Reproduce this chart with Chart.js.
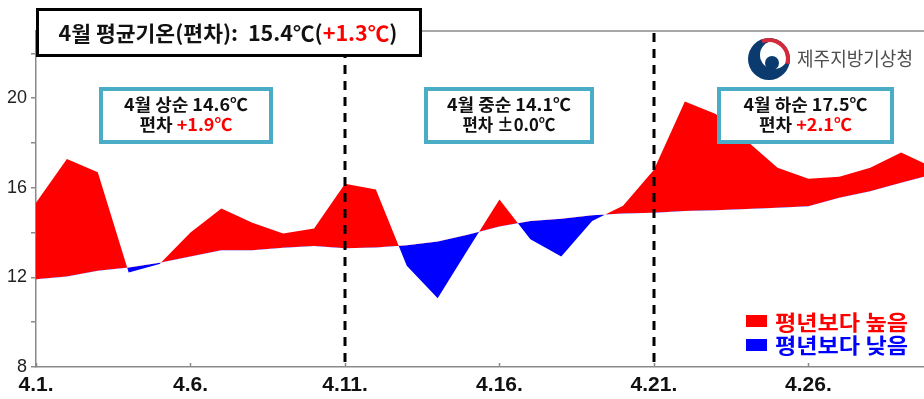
<!DOCTYPE html>
<html>
<head>
<meta charset="utf-8">
<script src="https://cdn.jsdelivr.net/npm/chart.js@4.4.1/dist/chart.umd.min.js"></script>
<style>
  html, body { margin: 0; padding: 0; background: #fff; }
  #wrap { width: 924px; height: 399px; }
</style>
</head>
<body>
<div id="wrap"><canvas id="aprilTemp" width="924" height="399"></canvas></div>
<script>
// April daily mean temperature vs. normal (Jeju)
const days = [1, 2, 3, 4, 5, 6, 7, 8, 9, 10, 11, 12, 13, 14, 15, 16, 17, 18, 19, 20, 21, 22, 23, 24, 25, 26, 27, 28, 29, 30];
const actualTemp = [15.33, 17.29, 16.69, 12.22, 12.6, 14.0, 15.08, 14.44, 13.96, 14.18,
                    16.18, 15.92, 12.52, 11.07, 13.29, 15.48, 13.7, 12.93, 14.52, 15.2,
                    16.81, 19.85, 19.3, 18.1, 16.89, 16.4, 16.49, 16.89, 17.58, 16.93];
const normalTemp = [11.92, 12.04, 12.3, 12.44, 12.65, 12.93, 13.21, 13.21, 13.32, 13.4,
                    13.3, 13.33, 13.43, 13.6, 13.92, 14.27, 14.52, 14.62, 14.78, 14.85,
                    14.89, 14.96, 15.0, 15.05, 15.11, 15.18, 15.56, 15.85, 16.22, 16.59];
const xTickDays = [1, 6, 11, 16, 21, 26];
const yTicks = [8, 10, 12, 14, 16, 18, 20, 22];
const yTickLabels = [8, 12, 16, 20];
const dekadDividers = [11, 21];

const titleText = ['4월 평균기온(편차):  15.4℃(', '+1.3℃', ')'];
const dekadTitles = ['4월 상순 14.6℃', '4월 중순 14.1℃', '4월 하순 17.5℃'];
const dekadDeviations = ['+1.9℃', '±0.0℃', '+2.1℃'];
const legendLabels = ['평년보다 높음', '평년보다 낮음'];
const agencyName = '제주지방기상청';

const RED = '#ff0000';
const BLUE = '#0000ff';
const KFONT = "'Noto Sans CJK KR', 'Noto Sans', sans-serif";

// draw coloured pieces as one line, centred at cx (or left at x0), squeezed/stretched to width
function drawMixed(ctx, parts, cx, cy, width, leftAlign) {
  let total = 0;
  parts.forEach(p => { total += ctx.measureText(p[0]).width; });
  const k = width ? width / total : 1;
  ctx.save();
  ctx.translate(leftAlign ? cx : cx - total * k / 2, cy);
  ctx.scale(k, 1);
  ctx.textAlign = 'left';
  let x = 0;
  parts.forEach(p => {
    ctx.fillStyle = p[1];
    ctx.fillText(p[0], x, 0);
    x += ctx.measureText(p[0]).width;
  });
  ctx.restore();
}

const overlay = {
  id: 'overlay',
  afterDatasetsDraw(chart) {
    const { ctx, chartArea: a, scales: { x } } = chart;
    ctx.save();

    // top frame line
    ctx.strokeStyle = '#8a8a8a';
    ctx.lineWidth = 1.5;
    ctx.beginPath();
    ctx.moveTo(a.left, a.top);
    ctx.lineTo(a.right, a.top);
    ctx.stroke();

    // small inward ticks on x axis
    xTickDays.forEach(d => {
      const px = Math.round(x.getPixelForValue(d)) + 0.5;
      ctx.beginPath();
      ctx.moveTo(px, a.bottom);
      ctx.lineTo(px, a.bottom - 4);
      ctx.stroke();
    });

    // dekad dividers
    ctx.strokeStyle = '#000';
    ctx.lineWidth = 3;
    ctx.setLineDash([9, 7]);
    dekadDividers.forEach(d => {
      const px = Math.round(x.getPixelForValue(d));
      ctx.beginPath();
      ctx.moveTo(px, a.top + 2);
      ctx.lineTo(px, a.bottom);
      ctx.stroke();
    });
    ctx.setLineDash([]);

    // month title box
    ctx.fillStyle = '#fff';
    ctx.fillRect(36, 8, 386, 49);
    ctx.strokeStyle = '#000';
    ctx.lineWidth = 3;
    ctx.strokeRect(37.5, 9.5, 383, 46);
    ctx.font = 'bold 21px ' + KFONT;
    ctx.textBaseline = 'middle';
    drawMixed(ctx, [[titleText[0], '#111'], [titleText[1], RED], [titleText[2], '#111']], 228, 33, 339);

    // dekad boxes
    const boxes = [[99, 87, 174, 57], [424, 87, 170, 57], [717, 87, 177, 57]];
    boxes.forEach((b, i) => {
      ctx.fillStyle = '#fff';
      ctx.fillRect(b[0], b[1], b[2], b[3]);
      ctx.strokeStyle = '#4bacc6';
      ctx.lineWidth = 4;
      ctx.strokeRect(b[0] + 2, b[1] + 2, b[2] - 4, b[3] - 4);
      const cx = b[0] + b[2] / 2;
      ctx.font = 'bold 17px ' + KFONT;
      drawMixed(ctx, [[dekadTitles[i], '#111']], cx, 105, 124);
      const dev = dekadDeviations[i];
      const devColor = dev.startsWith('+') ? RED : '#111';
      drawMixed(ctx, [['편차 ', '#111'], [dev, devColor]], cx, 125, 93);
    });

    // agency logo
    const lx = 769, ly = 59;
    ctx.fillStyle = '#0b3a6e';
    ctx.beginPath(); ctx.arc(lx, ly, 21, 0, Math.PI * 2); ctx.fill();
    ctx.fillStyle = '#fff';
    ctx.beginPath(); ctx.arc(lx + 5, ly - 4, 14, 0, Math.PI * 2); ctx.fill();
    ctx.fillStyle = '#0b3a6e';
    ctx.beginPath(); ctx.arc(lx + 3, ly + 4, 7, 0, Math.PI * 2); ctx.fill();
    ctx.strokeStyle = '#d42a3c';
    ctx.lineWidth = 4;
    ctx.beginPath(); ctx.arc(lx, ly, 19, -Math.PI * 0.62, Math.PI * 0.08); ctx.stroke();
    ctx.font = '19px ' + KFONT;
    drawMixed(ctx, [[agencyName, '#4d4d4d']], 797, 59, 116, true);

    // legend
    ctx.font = 'bold 21px ' + KFONT;
    ctx.textBaseline = 'middle';
    [[RED, 315, 322], [BLUE, 339, 345]].forEach((item, i) => {
      ctx.fillStyle = item[0];
      ctx.fillRect(746, item[1], 21, 12);
      drawMixed(ctx, [[legendLabels[i], item[0]]], 775, item[2], 133, true);
    });

    ctx.restore();
  }
};

new Chart(document.getElementById('aprilTemp'), {
  type: 'line',
  data: {
    labels: days,
    datasets: [
      {
        label: '평년',
        data: days.map((d, i) => ({ x: d, y: normalTemp[i] })),
        borderWidth: 0,
        pointRadius: 0,
        fill: false
      },
      {
        label: '평균기온',
        data: days.map((d, i) => ({ x: d, y: actualTemp[i] })),
        borderWidth: 0,
        pointRadius: 0,
        fill: { target: 0, above: RED, below: BLUE }
      }
    ]
  },
  options: {
    responsive: false,
    animation: false,
    devicePixelRatio: 1,
    layout: { padding: { top: 31, right: 0, left: 0, bottom: 0 } },
    plugins: {
      legend: { display: false },
      tooltip: { enabled: false }
    },
    scales: {
      x: {
        type: 'linear',
        min: 1,
        max: 29.74,
        afterBuildTicks: s => { s.ticks = xTickDays.map(v => ({ value: v })); },
        afterFit: s => { s.height = 32; },
        grid: { drawOnChartArea: false, drawTicks: false },
        border: { color: '#8a8a8a', width: 1.5 },
        ticks: {
          padding: 6,
          color: '#111',
          font: { family: "'Liberation Sans', Arial, sans-serif", size: 21, weight: 'bold' },
          callback: v => '4.' + v + '.'
        }
      },
      y: {
        min: 8,
        max: 23,
        afterBuildTicks: s => { s.ticks = yTicks.map(v => ({ value: v })); },
        afterFit: s => { s.width = 36; },
        grid: { drawOnChartArea: false, drawTicks: true, tickLength: 5, color: '#8a8a8a', lineWidth: 1.5 },
        border: { color: '#8a8a8a', width: 1.5 },
        ticks: {
          padding: 4,
          color: '#222',
          font: { family: "'Liberation Sans', Arial, sans-serif", size: 18 },
          callback: v => yTickLabels.includes(v) ? String(v) : ''
        }
      }
    }
  },
  plugins: [overlay]
});
</script>
</body>
</html>
